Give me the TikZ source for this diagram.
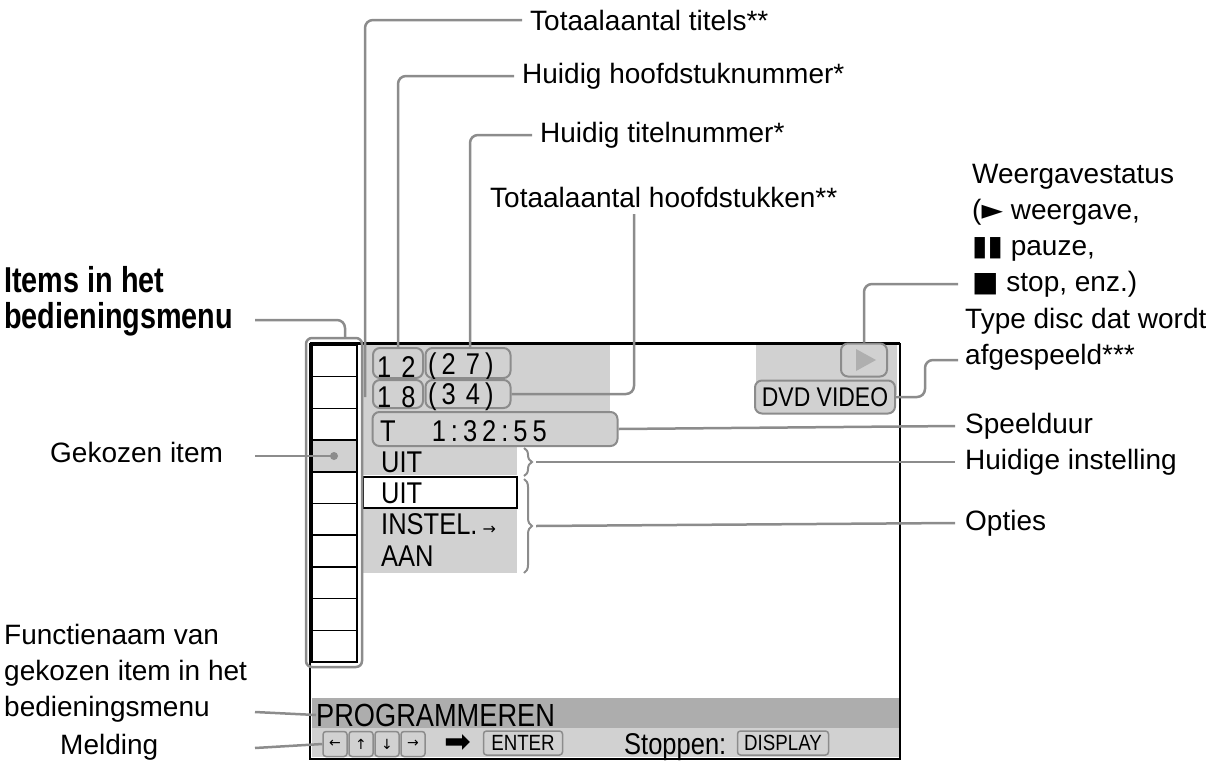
\documentclass[tikz,border=0pt]{standalone}
\usepackage{fontspec}
\setmainfont{Liberation Sans}
\newfontfamily\symfont{DejaVu Sans}
\newfontfamily\condfont{Liberation Sans Bold}[FakeStretch=0.8]
\newfontfamily\narrowfont{Liberation Sans}[FakeStretch=0.85]
\usetikzlibrary{decorations.pathreplacing}
\definecolor{lgray}{gray}{0.82}
\definecolor{dgray}{gray}{0.68}
\definecolor{lline}{gray}{0.55}
\tikzset{
  lead/.style={draw=lline,line width=2.5pt,rounded corners=8pt},
  lbl/.style={anchor=west,inner sep=0pt,font=\fontsize{28}{36}\selectfont},
  scr/.style={anchor=west,inner sep=0pt,font=\narrowfont\fontsize{30}{32}\selectfont},
  rbox/.style={draw=lline,line width=2pt,rounded corners=7pt,fill=lgray,inner sep=0pt},
  key/.style={draw=lline,line width=1.5pt,rounded corners=3pt,fill=lgray,inner sep=1pt,font=\narrowfont\fontsize{22}{24}\selectfont}
}
\begin{document}
\begin{tikzpicture}[x=1pt,y=-1pt]
\useasboundingbox (0,0) rectangle (1206,771);
% screen backgrounds
\fill[lgray] (363,345) rectangle (610,440);
\fill[lgray] (756,345) rectangle (897,395);
\fill[lgray] (363,440) rectangle (517,475);
\fill[lgray] (363,508) rectangle (517,573);
\fill[dgray] (312,698) rectangle (900,728);
\fill[lgray] (312,728) rectangle (900,757);
\draw[line width=1.5pt] (363,477) rectangle (517,508);
% screen frame
\draw[line width=3pt] (310,343) -- (900,343);
\draw[line width=1.5pt] (310,343) -- (310,759) -- (900,759) -- (900,343);
% menu column
\fill[lgray] (312,440) rectangle (357,472);
\foreach \i in {0,...,9}
  \draw[line width=1.5pt] (312,345+31.7*\i) rectangle (357,345+31.7*\i+31.7);
\draw[lead,rounded corners=6pt] (306,338) rectangle (362,667);
\fill[lline] (334,456) circle (4pt);
\coordinate (sel) at (334,456);
% boxes in the screen
\node[rbox,minimum width=50pt,minimum height=30pt] (cur) at (398,363) {};
\node[scr] at (377,367) {1\,\,2};
\node[rbox,minimum width=85pt,minimum height=30pt] (ttl) at (468,363) {};
\node[scr] at (428,367) {(\,2\,\,7\,)};
\node[rbox,minimum width=50pt,minimum height=28pt] (chp) at (398,394) {};
\node[scr] at (377,397) {1\,\,8};
\node[rbox,minimum width=85pt,minimum height=28pt] (tchp) at (468,394) {};
\node[scr] at (428,397) {(\,3\,\,4\,)};
\node[rbox,minimum width=245pt,minimum height=34pt] (tijd) at (495,429) {};
\node[scr] at (380,431) {T\hspace{36pt}1\,:\,3\,2\,:\,5\,5};
\node[rbox,minimum width=46pt,minimum height=33pt] (play) at (864,360) {};
\fill[lline!70] (856,349) -- (876,360) -- (856,371) -- cycle;
\node[rbox,minimum width=140pt,minimum height=33pt,font=\narrowfont\fontsize{27}{28}\selectfont] (dvd) at (825,397) {DVD VIDEO};
\node[scr] at (381,462) {UIT};
\node[scr] at (381,493) {UIT};
\node[scr] at (381,524) {INSTEL.\,{\symfont\fontsize{16}{16}\selectfont→}};
\node[scr] at (381,556) {AAN};
\draw[lline,line width=2pt,decorate,decoration={brace,amplitude=8pt}] (524,448) -- (524,476) coordinate[midway,xshift=12pt] (br1);
\draw[lline,line width=2pt,decorate,decoration={brace,amplitude=8pt}] (524,479) -- (524,573) coordinate[midway,xshift=12pt] (br2);
\node[scr,font=\narrowfont\fontsize{32}{34}\selectfont] (prog) at (316,715) {PROGRAMMEREN};
\foreach \s [count=\k] in {←,↑,↓,→}
  \node[key,minimum width=24pt,minimum height=25pt,font=\symfont\fontsize{14}{14}\selectfont] (k\k) at (309+26*\k,744) {\s};
\node[font=\symfont\fontsize{32}{32}\selectfont,inner sep=0pt] at (458,744) {➡};
\node[key,minimum width=79pt,minimum height=24pt] (enter) at (523,743) {ENTER};
\node[scr,font=\narrowfont\fontsize{30}{32}\selectfont] at (624,747) {Stoppen:};
\node[key,minimum width=91pt,minimum height=24pt] (disp) at (783,743) {DISPLAY};
% labels right and top
\node[lbl] (titels) at (530,20) {Totaalaantal titels**};
\node[lbl] (hfdnr) at (522,76) {Huidig hoofdstuknummer*};
\node[lbl] (titnr) at (540,135) {Huidig titelnummer*};
\node[lbl] (hfdtot) at (490,197) {Totaalaantal hoofdstukken**};
\node[lbl,align=left,anchor=north west] (status) at (972,164) {Weergavestatus\\({\symfont►} weergave,\\{\symfont▮▮} pauze,\\{\symfont■} stop, enz.)};
\node[lbl,align=left,anchor=north west] (disc) at (965,308) {Type disc dat wordt\\afgespeeld***};
\node[lbl] (duur) at (965,426) {Speelduur};
\node[lbl] (inst) at (965,462) {Huidige instelling};
\node[lbl] (opt) at (965,523) {Opties};
% labels left
\node[lbl,align=left,anchor=north west,font=\condfont\fontsize{36}{36}\selectfont] (items) at (4,266) {Items in het\\bedieningsmenu};
\node[lbl] (gek) at (50,452) {Gekozen item};
\node[lbl,align=left,anchor=north west] (fnaam) at (4,624) {Functienaam van\\gekozen item in het\\bedieningsmenu};
\node[lbl] (meld) at (60,747) {Melding};
% leaders
\draw[lead] (titels.west) ++(-8,0) -| (365,397);
\draw[lead] (hfdnr.west) ++(-8,0) -| (cur.north);
\draw[lead] (titnr.west) ++(-8,0) -| (470,348);
\draw[lead] (634,214) |- (tchp.east);
\draw[lead] (958,284) -| (play.north);
\draw[lead] (dvd.east) -| (925,360) -- (958,360);
\draw[lead] (tijd.east) -- ([xshift=-10pt]duur.west);
\draw[lead] (br1) -- ([xshift=-10pt]inst.west);
\draw[lead] (br2) -- ([xshift=-10pt]opt.west);
\draw[lead] (255,320) -| (345,338);
\draw[lead] (255,456) -- (sel);
\draw[lead] (255,712) -- (prog.west);
\draw[lead] (255,748) -- (k1.west);
\end{tikzpicture}
\end{document}
